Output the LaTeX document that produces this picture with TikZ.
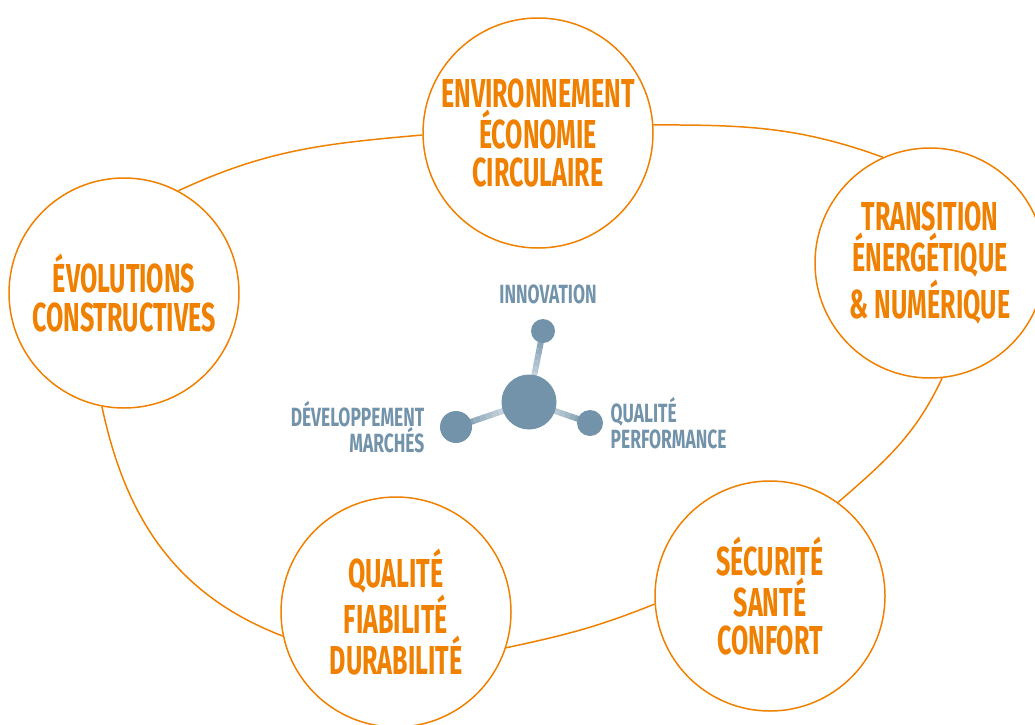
\documentclass[tikz,border=0pt]{standalone}
\usepackage{fontspec}
\newfontfamily\dinfont{Fira Sans}[FakeStretch=0.62]
\newfontfamily\dintag{Fira Sans}[FakeStretch=0.66]
\usetikzlibrary{positioning,calc}
\definecolor{orng}{RGB}{239,128,0}
\definecolor{steel}{RGB}{114,147,170}
\tikzset{
  theme/.style={circle,draw=orng,line width=0.85pt,fill=white,minimum size=46mm,
    inner sep=0pt,align=center,text=orng,
    font=\dinfont\bfseries\fontsize{23}{21.8}\selectfont},
  loopline/.style={draw=orng,line width=0.85pt},
  atom/.style={circle,fill=steel,inner sep=0pt},
  tag/.style={text=steel,inner sep=0pt,
    font=\dintag\bfseries\fontsize{15}{14.6}\selectfont},
}
\begin{document}
\begin{tikzpicture}[x=0.2mm,y=0.2mm]
\clip (0,0) rectangle (1035,-724);
% themes
\node (env)   [theme] at (538,-133) {ENVIRONNEMENT\\ÉCONOMIE\\CIRCULAIRE};
\node (trans) [theme] at (930,-263) {TRANSITION\\ÉNERGÉTIQUE\\\& NUMÉRIQUE};
\node (secu)  [theme] at (770,-596) {SÉCURITÉ\\SANTÉ\\CONFORT};
\node (qual)  [theme] at (396,-612) {QUALITÉ\\FIABILITÉ\\DURABILITÉ};
\node (evol)  [theme] at (124,-293) {ÉVOLUTIONS\\CONSTRUCTIVES};
% loop
\path[loopline] (evol.62) to[out=25,in=185] (env.181);
\path[loopline] (env.4) to[out=0,in=160] (trans.114);
\path[loopline] (trans.276) to[out=245,in=41] (secu.54);
\path[loopline] (secu.184) to[out=202,in=12] (qual.342);
\path[loopline] (qual.192) to[out=159,in=282] (evol.259);
% molecule
\coordinate (core) at (529,-402);
\coordinate (c-inno) at (543,-331);
\coordinate (c-dev) at (456,-427);
\coordinate (c-perf) at (590,-423);
\foreach \s in {inno,dev,perf}{
  \foreach \i in {0,...,11}{
    \pgfmathtruncatemacro\pct{100*(\i+1)/12}
    \draw[line width=1.2mm,steel!\pct!white]
      ($(core)!\i/12!(c-\s)$) -- ($(core)!{(\i+1)/12}!(c-\s)$);
  }
}
\node (big)  [atom,minimum size=11mm]  at (core) {};
\node (inno) [atom,minimum size=4.8mm] at (c-inno) {};
\node (dev)  [atom,minimum size=6.4mm] at (c-dev) {};
\node (perf) [atom,minimum size=5.2mm] at (c-perf) {};
% labels
\node (l-inno) [tag,above=2.8mm of inno,xshift=1mm] {INNOVATION};
\node (l-dev)  [tag,left=3mm of dev,align=right] {DÉVELOPPEMENT\\MARCHÉS};
\node (l-perf) [tag,right=1.4mm of perf,align=left] {QUALITÉ\\PERFORMANCE};
\end{tikzpicture}
\end{document}
